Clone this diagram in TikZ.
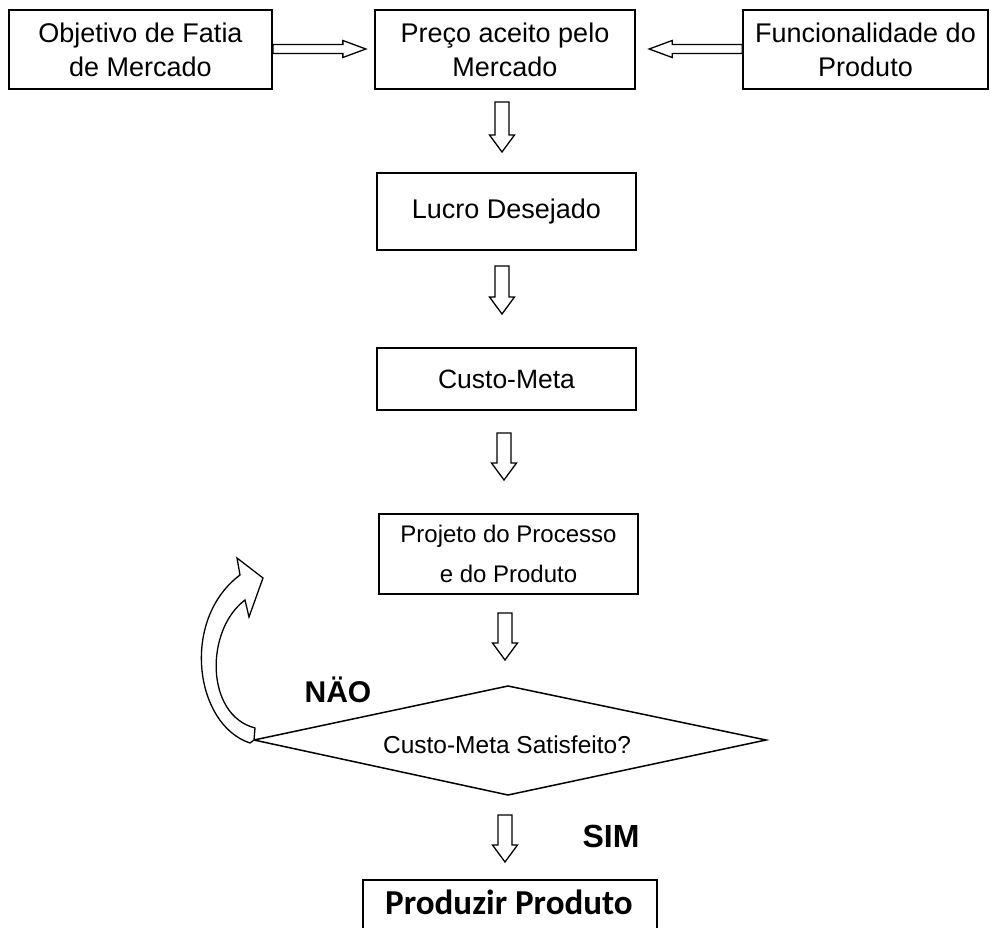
\documentclass[tikz,border=0pt]{standalone}
\usepackage{fontspec}
\setmainfont{Liberation Sans}
\newfontfamily\carl{Carlito}
\begin{document}
\begin{tikzpicture}[x=1pt,y=-1pt,
  box/.style={draw, line width=1.7pt, inner sep=0pt, fill=white, align=center},
  blk/.style={draw, line width=1.3pt, fill=white, line join=miter},
  ttop/.style={font=\fontsize{27}{34}\selectfont},
  pics/dnarr/.style={code={\draw[blk] (-7,0) -- (-7,#1-17) -- (-12.5,#1-17) -- (0,#1) -- (12.5,#1-17) -- (7,#1-17) -- (7,0) -- cycle;}},
  pics/rarr/.style={code={\draw[blk] (0,-4.5) -- (#1-23,-4.5) -- (#1-23,-8.5) -- (#1,0) -- (#1-23,8.5) -- (#1-23,4.5) -- (0,4.5) -- cycle;}}
]
\useasboundingbox (0,0) rectangle (991,928);
\clip (0,0) rectangle (991,928);

% top row
\node[box, ttop, minimum width=263pt, minimum height=79pt] (A) at (140.5,49.5) {Objetivo de Fatia\\de Mercado};
\node[box, ttop, minimum width=260pt, minimum height=79pt] (B) at (505,49.5) {Preço aceito pelo\\Mercado};
\node[box, ttop, minimum width=245pt, minimum height=79pt] (C) at (865.5,49.5) {Funcionalidade do\\Produto};

\pic at (A.east |- 0,49) {rarr=93};
\pic[xscale=-1] at (C.west |- 0,49) {rarr=93};

% vertical chain
\node[box, font=\fontsize{27}{34}\selectfont, minimum width=259pt, minimum height=77pt] (L) at (506.5,211.5) {Lucro Desejado};
\node[box, font=\fontsize{26.5}{34}\selectfont, minimum width=259pt, minimum height=62pt] (CM) at (506.5,379) {Custo-Meta};
\node[box, font=\fontsize{24}{40}\selectfont, minimum width=259pt, minimum height=80pt] (P) at (508.5,554) {Projeto do Processo\\e do Produto};

\pic at (502,102) {dnarr=50};
\pic at (502,266) {dnarr=48};
\pic at (504,433) {dnarr=47};
\pic at (505,613) {dnarr=47};

% decision
\coordinate (DL) at (254,740);
\coordinate (DT) at (508,686);
\coordinate (DR) at (766,740);
\coordinate (DB) at (508,795);
\draw[line width=1.5pt, line join=miter] (DL) -- (DT) -- (DR) -- (DB) -- cycle;
\node[font=\fontsize{24.5}{30}\selectfont, inner sep=0pt] (DQ) at (507,745) {Custo-Meta Satisfeito?};

\node[font=\bfseries\fontsize{30}{36}\selectfont, inner sep=0pt] (NAO) at (338,690) {NÄO};
\node[font=\bfseries\fontsize{32}{38}\selectfont, inner sep=0pt] (SIM) at (611,836) {SIM};

\pic at (505,815) {dnarr=47};

% final box
\node[box, minimum width=294pt, minimum height=66pt] (F) at (510,913) {};
\node[font=\carl\bfseries\fontsize{35}{40}\selectfont, inner sep=0pt] (FT) at (509,902) {Produzir Produto};

% curved return arrow
\draw[blk] (DL) -- (250,743) .. controls (195,725) and (180,620) .. (240,575)
  -- (237,558) -- (263,578) -- (249,617) -- (245,600)
  .. controls (205,630) and (205,715) .. (255,728) -- cycle;
\end{tikzpicture}
\end{document}
